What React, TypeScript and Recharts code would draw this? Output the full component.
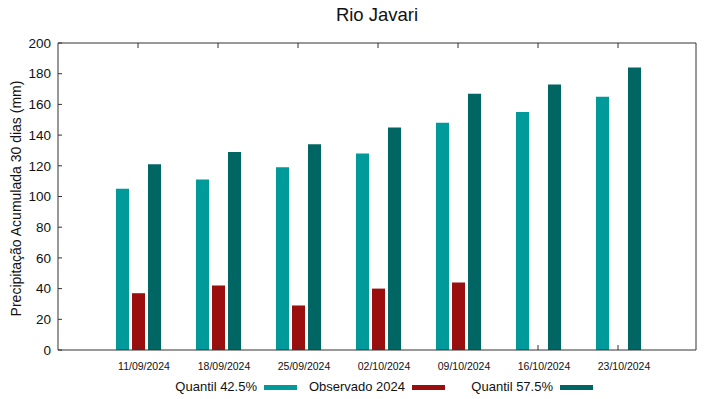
import React from 'react';
import { BarChart, Bar, XAxis, YAxis, CartesianGrid } from 'recharts';

const categories = ['11/09/2024', '18/09/2024', '25/09/2024', '02/10/2024', '09/10/2024', '16/10/2024', '23/10/2024'];
const quantil425 = [105, 111, 119, 128, 148, 155, 165];
const observado2024: (number | null)[] = [37, 42, 29, 40, 44, null, null];
const quantil575 = [121, 129, 134, 145, 167, 173, 184];
const yTicks = [0, 20, 40, 60, 80, 100, 120, 140, 160, 180, 200];

const seriesNames = ['Quantil 42.5%', 'Observado 2024', 'Quantil 57.5%'];
const seriesColors = ['#009a9a', '#9a0e0e', '#006664'];

const data = categories.map((c, i) => ({
  date: c,
  q425: quantil425[i],
  obs: observado2024[i],
  q575: quantil575[i],
}));

const FONT = '"Liberation Sans", Arial, sans-serif';
const AXIS = '#333';

const legendSwatchX = [264, 412, 560];

const EmptyTick = () => <g />;

export default function App() {
  return (
    <div style={{ position: 'absolute', left: 0, top: 0, width: 719, height: 399, fontFamily: FONT, background: '#fff' }}>
      <div style={{ position: 'absolute', left: 58, width: 638, top: 4, textAlign: 'center', fontSize: 18.5, color: '#111', lineHeight: '22px' }}>
        Rio Javari
      </div>
      <BarChart
        width={719}
        height={399}
        data={data}
        margin={{ top: 42, right: 0, left: 0, bottom: 0 }}
        barSize={13}
        barGap={3}
        style={{ fontFamily: FONT }}
      >
        <CartesianGrid vertical={false} stroke="#aaa" strokeDasharray="2 2" horizontalValues={[20, 40, 60, 80, 100, 120, 140, 160, 180]} />
        <XAxis
          dataKey="date"
          xAxisId="bottom"
          height={49}
          padding={{ left: 40, right: 38 }}
          stroke={AXIS}
          tickSize={-5}
          tickMargin={18}
          tick={{ fontSize: 10.5, fill: '#111', dx: 6 }}
          interval={0}
        />
        <XAxis
          dataKey="date"
          xAxisId="top"
          orientation="top"
          height={1}
          padding={{ left: 40, right: 38 }}
          stroke={AXIS}
          tickSize={-5}
          tick={EmptyTick}
          interval={0}
        />
        <YAxis
          yAxisId="left"
          width={58}
          domain={[0, 200]}
          ticks={yTicks}
          stroke={AXIS}
          tickSize={-4}
          tickMargin={11}
          tick={{ fontSize: 13.5, fill: '#111' }}
          label={{
            content: (props: any) => {
              const vb = props.viewBox || { y: 43, height: 307 };
              const cy = vb.y + vb.height / 2 + 2;
              return (
                <text x={16} y={cy} transform={`rotate(-90, 16, ${cy})`} textAnchor="middle" dominantBaseline="central" fontSize={14} fill="#111" fontFamily={FONT}>
                  Precipitação Acumulada 30 dias (mm)
                </text>
              );
            },
          }}
        />
        <YAxis
          yAxisId="right"
          orientation="right"
          width={23}
          domain={[0, 200]}
          ticks={yTicks}
          stroke={AXIS}
          tickSize={-4}
          tick={EmptyTick}
        />
        <Bar dataKey="q425" name={seriesNames[0]} fill={seriesColors[0]} xAxisId="bottom" yAxisId="left" isAnimationActive={false} />
        <Bar dataKey="obs" name={seriesNames[1]} fill={seriesColors[1]} xAxisId="bottom" yAxisId="left" isAnimationActive={false} />
        <Bar dataKey="q575" name={seriesNames[2]} fill={seriesColors[2]} xAxisId="bottom" yAxisId="left" isAnimationActive={false} />
      </BarChart>
      {seriesNames.map((n, i) => (
        <React.Fragment key={n}>
          <div style={{ position: 'absolute', right: 719 - legendSwatchX[i] + 7, top: 379, fontSize: 13, lineHeight: '16px', color: '#111', whiteSpace: 'nowrap' }}>{n}</div>
          <div style={{ position: 'absolute', left: legendSwatchX[i], width: 33, top: 385, height: 5, background: seriesColors[i] }} />
        </React.Fragment>
      ))}
    </div>
  );
}
